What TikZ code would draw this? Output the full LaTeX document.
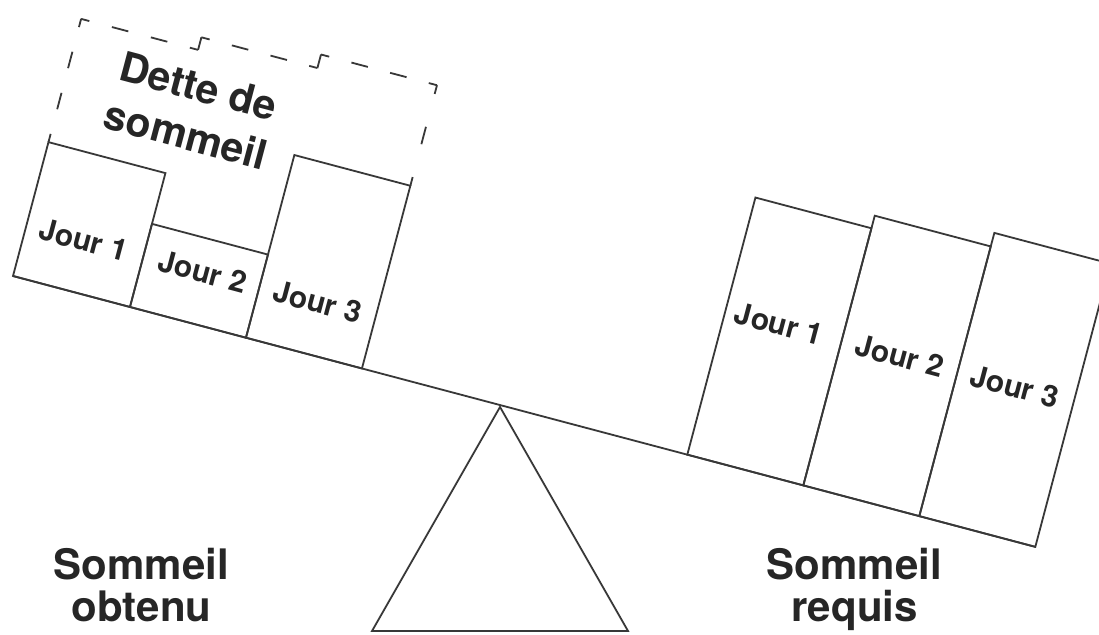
\documentclass[tikz,border=0pt]{standalone}
\usepackage{fontspec}
\setmainfont{TeX Gyre Heros}
\begin{document}
\begin{tikzpicture}[x=1pt,y=1pt,
  ln/.style={draw=black!78, line width=1.8pt, line join=miter},
  dln/.style={draw=black!78, line width=1.8pt},
  jour/.style={font=\fontsize{30}{30}\selectfont\bfseries, text=black!85, inner sep=0pt, anchor=base},
  big/.style={font=\fontsize{42}{42}\selectfont\bfseries, text=black!85, inner sep=0pt, align=center, text depth=0pt, anchor=south},
  debt/.style={font=\fontsize{41}{50}\selectfont\bfseries, text=black!85, inner sep=0pt, align=center, text depth=0pt, anchor=south}]
\clip (0,0) rectangle (1099,-634);
\fill[white] (0,0) rectangle (1099,-634);

% fulcrum
\coordinate (apex) at (500,-407);
\coordinate (bl) at (372,-631);
\coordinate (br) at (628,-631);
\draw[ln] (apex) -- (bl) -- (br) -- cycle;

% tilted beam and boxes
\begin{scope}[shift={(13,-276)}, rotate=-14.84, transform shape]
  \draw[ln] (0,0) -- (1058,0);
  % left: obtained sleep
  \draw[ln] (0,0) rectangle (121,138.5);
  \draw[ln] (121,0) rectangle (241,86);
  \draw[ln] (241,0) rectangle (361,189);
  % right: required sleep
  \draw[ln] (697.6,0) rectangle (817.6,266);
  \draw[ln] (817.6,0) rectangle (937.6,279);
  \draw[ln] (937.6,0) rectangle (1057.6,293);
  % dashed debt outline
  \draw[dln, dash pattern=on 17pt off 25.5pt, dash phase=8.5pt] (0,138.5) -- (0,266);
  \draw[dln, dash pattern=on 17pt off 23.33pt, dash phase=8.5pt] (0,266) -- (121,266);
  \draw[dln] (121,266) -- (121,279);
  \draw[dln, dash pattern=on 17pt off 23pt, dash phase=8.5pt] (121,279) -- (241,279);
  \draw[dln] (241,279) -- (241,293);
  \draw[dln, dash pattern=on 17pt off 23pt, dash phase=8.5pt] (241,293) -- (361,293);
  \draw[dln, dash pattern=on 18pt off 34pt, dash phase=9pt] (361,293) -- (361,189);
  % labels
  \node[jour] (lj1) at (59,42) {Jour 1};
  \node[jour] (lj2) at (182,42) {Jour 2};
  \node[jour] (lj3) at (301,42) {Jour 3};
  \node[jour] (rj1) at (753,139) {Jour 1};
  \node[jour] (rj2) at (877.5,139) {Jour 2};
  \node[jour] (rj3) at (996.5,139) {Jour 3};
  \node[debt] (dette) at (131,166) {Dette de\\sommeil};
\end{scope}

\node[big] (obtenu) at (141.5,-622) {Sommeil\\obtenu};
\node[big] (requis) at (854.5,-622) {Sommeil\\requis};
\end{tikzpicture}
\end{document}
